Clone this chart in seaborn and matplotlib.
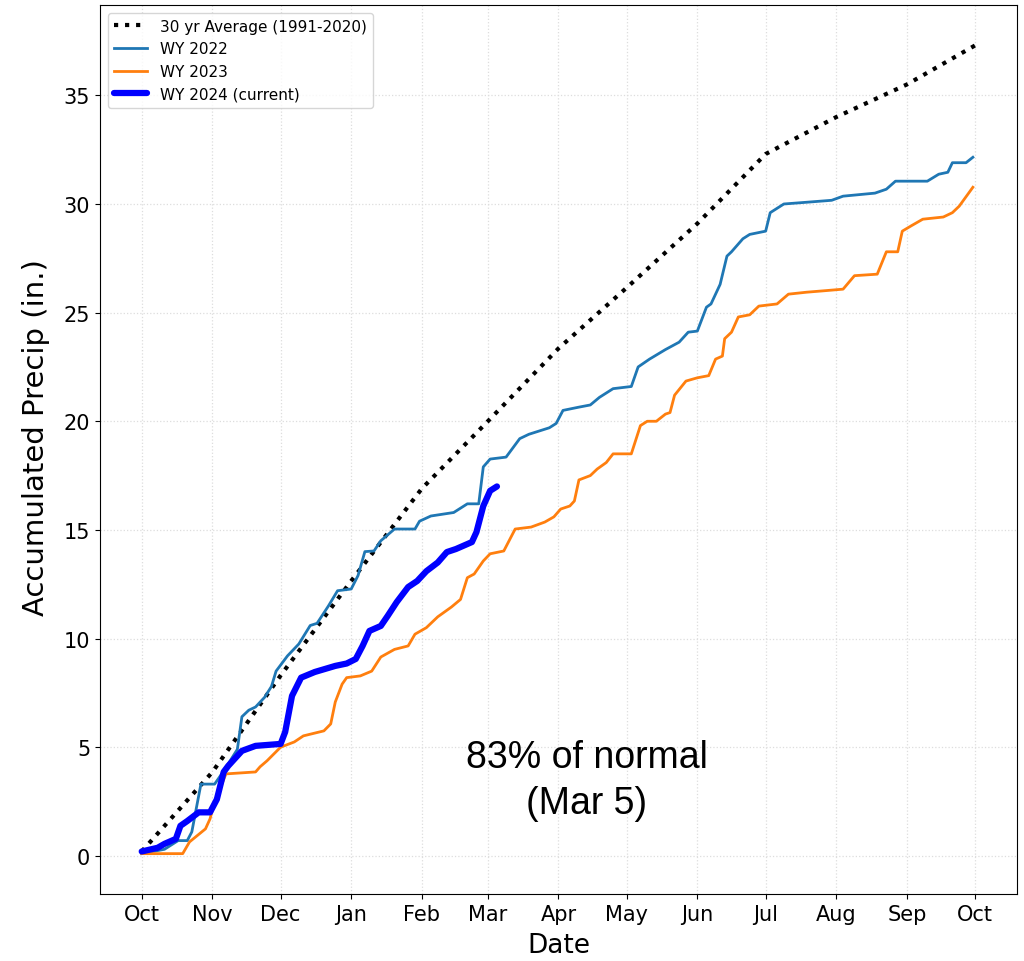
import pandas as pd
import seaborn as sns
import matplotlib.pyplot as plt
import matplotlib.dates as mdates

# Water year start (days below are offsets from Oct 1)
start = pd.Timestamp('2023-10-01')

# 30 yr average (1991-2020), month-start knots
avg_days = [0, 31, 61, 92, 123, 152, 183, 213, 244, 274, 305, 336, 366]
avg_vals = [0.2, 3.85, 8.3, 12.65, 16.9, 20.0, 23.35, 26.15, 29.1, 32.3, 34.0, 35.5, 37.3]

# WY 2022
wy22_days = [0, 10, 16, 20, 22, 26, 32, 36, 42, 44, 47, 50, 54, 57, 59, 64, 69, 74, 77, 82,
             86, 92, 95, 98, 102, 105, 111, 120, 122, 127, 137, 143, 148, 150, 153, 160, 166,
             170, 179, 182, 185, 192, 197, 201, 207, 215, 218, 223, 230, 236, 240, 244, 248,
             250, 254, 257, 259, 264, 267, 274, 276, 282, 292, 303, 308, 317, 322, 327, 331,
             345, 350, 354, 356, 362, 365]
wy22_vals = [0.1, 0.3, 0.7, 0.7, 1.1, 3.3, 3.3, 3.9, 4.9, 6.4, 6.7, 6.85, 7.3, 7.8, 8.5, 9.2,
             9.75, 10.6, 10.7, 11.5, 12.2, 12.28, 12.9, 14.0, 14.03, 14.5, 15.04, 15.04, 15.4,
             15.64, 15.8, 16.2, 16.2, 17.9, 18.26, 18.35, 19.2, 19.4, 19.7, 19.9, 20.5, 20.65,
             20.75, 21.1, 21.5, 21.6, 22.5, 22.86, 23.3, 23.64, 24.1, 24.15, 25.25, 25.4, 26.3,
             27.6, 27.8, 28.4, 28.6, 28.75, 29.6, 30.0, 30.08, 30.17, 30.36, 30.45, 30.5, 30.68,
             31.05, 31.05, 31.37, 31.46, 31.9, 31.9, 32.15]

# WY 2023
wy23_days = [0, 18, 21, 28, 30, 32, 37, 50, 52, 55, 61, 67, 71, 80, 83, 85, 88, 90, 96, 101,
             105, 111, 117, 120, 125, 130, 136, 140, 143, 146, 150, 153, 159, 164, 171, 177,
             181, 184, 188, 190, 192, 197, 200, 204, 207, 215, 219, 222, 226, 230, 232, 234,
             239, 244, 249, 252, 255, 256, 259, 262, 267, 271, 279, 284, 292, 299, 308, 313,
             323, 327, 332, 334, 338, 343, 352, 356, 359, 365]
wy23_vals = [0.1, 0.1, 0.64, 1.24, 1.7, 2.48, 3.77, 3.86, 4.1, 4.37, 5.0, 5.24, 5.52, 5.75,
             6.07, 7.08, 7.9, 8.2, 8.28, 8.5, 9.15, 9.5, 9.66, 10.2, 10.5, 11.0, 11.45, 11.8,
             12.8, 12.97, 13.57, 13.9, 14.03, 15.04, 15.13, 15.36, 15.6, 15.96, 16.1, 16.33,
             17.3, 17.5, 17.8, 18.1, 18.5, 18.5, 19.8, 20.0, 20.0, 20.33, 20.4, 21.2, 21.85,
             22.0, 22.1, 22.86, 23.0, 23.8, 24.1, 24.8, 24.9, 25.3, 25.4, 25.85, 25.94, 26.0,
             26.08, 26.7, 26.77, 27.8, 27.8, 28.75, 29.0, 29.3, 29.4, 29.6, 29.9, 30.77]

# WY 2024 (current, through Mar 5)
wy24_days = [0, 7, 10, 15, 17, 20, 25, 30, 33, 36, 38, 44, 50, 61, 63, 66, 70, 76, 85, 90,
             94, 97, 100, 105, 108, 112, 117, 121, 125, 130, 134, 138, 145, 147, 150, 153, 156]
wy24_vals = [0.2, 0.37, 0.55, 0.78, 1.38, 1.6, 2.0, 2.0, 2.6, 3.86, 4.14, 4.83, 5.06, 5.15,
             5.7, 7.36, 8.2, 8.46, 8.74, 8.85, 9.06, 9.66, 10.35, 10.58, 11.04, 11.68, 12.37,
             12.65, 13.1, 13.5, 13.98, 14.12, 14.44, 14.9, 16.1, 16.8, 17.0]


def to_df(days, vals):
    return pd.DataFrame({'date': start + pd.to_timedelta(days, unit='D'), 'precip': vals})


fig = plt.figure(figsize=(10.24, 9.62), dpi=100)
ax = fig.add_axes([0.0977, 0.0696, 0.8953, 0.9242])

sns.lineplot(data=to_df(avg_days, avg_vals), x='date', y='precip', ax=ax, color='black',
             linestyle=':', linewidth=3, label='30 yr Average (1991-2020)')
sns.lineplot(data=to_df(wy22_days, wy22_vals), x='date', y='precip', ax=ax, color='#1f77b4',
             linewidth=2, label='WY 2022')
sns.lineplot(data=to_df(wy23_days, wy23_vals), x='date', y='precip', ax=ax, color='#ff7f0e',
             linewidth=2, label='WY 2023')
sns.lineplot(data=to_df(wy24_days, wy24_vals), x='date', y='precip', ax=ax, color='blue',
             linewidth=4.5, label='WY 2024 (current)', solid_capstyle='round')

ax.xaxis.set_major_locator(mdates.MonthLocator())
ax.xaxis.set_major_formatter(mdates.DateFormatter('%b'))
ax.tick_params(axis='both', labelsize=15)
ax.set_xlabel('Date', fontsize=19, labelpad=6)
ax.set_ylabel('Accumulated Precip (in.)', fontsize=21)
ax.yaxis.set_label_coords(-0.055, 0.514)
ax.grid(True, color='#dddddd', linestyle=':', linewidth=0.9)

ax.legend(loc='upper left', fontsize=11, handlelength=2.2)

ax.text(0.531, 0.128, '83% of normal\n(Mar 5)', transform=ax.transAxes, ha='center',
        va='center', fontsize=27, family='Liberation Sans', linespacing=1.35)

fig.savefig('out.png', dpi=100)
